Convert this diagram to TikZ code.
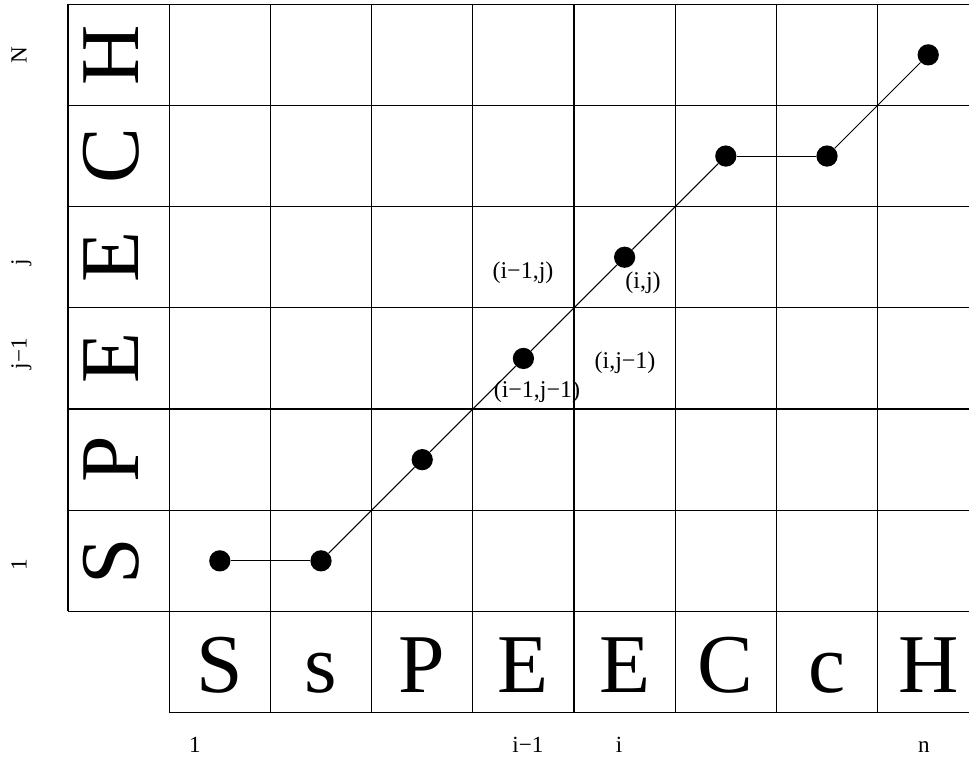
\documentclass[tikz,border=0pt]{standalone}
\usepackage{fontspec}
\setmainfont{Liberation Serif}
\usetikzlibrary{positioning}

\begin{document}
\begin{tikzpicture}[
        x=2cm, y=2cm,
        cell/.style={line width=0.7pt, step=2cm},
        bigletter/.style={inner sep=0pt, anchor=base, font=\fontsize{47}{50}\selectfont},
        axislabel/.style={inner sep=0pt, anchor=base, font=\fontsize{13}{15}\selectfont},
        celllabel/.style={inner sep=0pt, font=\fontsize{13.5}{16}\selectfont},
        point/.style={circle, fill=black, inner sep=0pt, minimum size=0.42cm},
        warp/.style={line width=0.5pt}
    ]
        \clip (-0.672,-0.457) rectangle (8.903,7.042);

        % Grid of cells
        \draw[cell] (0,1) grid (9,7);
        \draw[cell] (1,0) grid (9,1);

        % Word along the bottom
        \node[bigletter] (x1) at (1.5,0.195) {S};
        \node[bigletter] (x2) at (2.5,0.195) {s};
        \node[bigletter] (x3) at (3.5,0.195) {P};
        \node[bigletter] (x4) at (4.5,0.195) {E};
        \node[bigletter] (x5) at (5.5,0.195) {E};
        \node[bigletter] (x6) at (6.5,0.195) {C};
        \node[bigletter] (x7) at (7.5,0.195) {c};
        \node[bigletter] (x8) at (8.5,0.195) {H};

        % Word up the left side
        \node[bigletter, rotate=90] (y1) at (0.70,1.5) {S};
        \node[bigletter, rotate=90] (y2) at (0.70,2.5) {P};
        \node[bigletter, rotate=90] (y3) at (0.70,3.5) {E};
        \node[bigletter, rotate=90] (y4) at (0.70,4.5) {E};
        \node[bigletter, rotate=90] (y5) at (0.70,5.5) {C};
        \node[bigletter, rotate=90] (y6) at (0.70,6.5) {H};

        % Indices
        \node[axislabel] (ione) at (1.255,-0.398) {1};
        \node[axislabel] (iprev) at (4.545,-0.398) {i−1};
        \node[axislabel] (icur) at (5.445,-0.398) {i};
        \node[axislabel] (ilast) at (8.458,-0.398) {n};

        \node[axislabel, rotate=90] (jone) at (-0.408,1.464) {1};
        \node[axislabel, rotate=90] (jprev) at (-0.408,3.545) {j−1};
        \node[axislabel, rotate=90] (jcur) at (-0.408,4.45) {j};
        \node[axislabel, rotate=90] (jlast) at (-0.408,6.494) {N};

        % Warping path
        \node[point] (p1) at (1.5,1.5) {};
        \node[point] (p2) at (2.5,1.5) {};
        \node[point] (p3) at (3.5,2.5) {};
        \node[point] (p4) at (4.5,3.5) {};
        \node[point] (p5) at (5.5,4.5) {};
        \node[point] (p6) at (6.5,5.5) {};
        \node[point] (p7) at (7.5,5.5) {};
        \node[point] (p8) at (8.5,6.5) {};

        \draw[warp] (p1) -- (p2);
        \draw[warp] (p2) -- (p3);
        \draw[warp] (p3) -- (p4);
        \draw[warp] (p4) -- (p5);
        \draw[warp] (p5) -- (p6);
        \draw[warp] (p6) -- (p7);
        \draw[warp] (p7) -- (p8);

        % Neighbour cells
        \node[celllabel] (nw) at (4.496,4.345) {(i−1,j)};
        \node[celllabel] (here) at (5.682,4.246) {(i,j)};
        \node[celllabel] (se) at (5.504,3.456) {(i,j−1)};
        \node[celllabel] (diag) at (4.634,3.169) {(i−1,j−1)};

    \end{tikzpicture}
\end{document}
